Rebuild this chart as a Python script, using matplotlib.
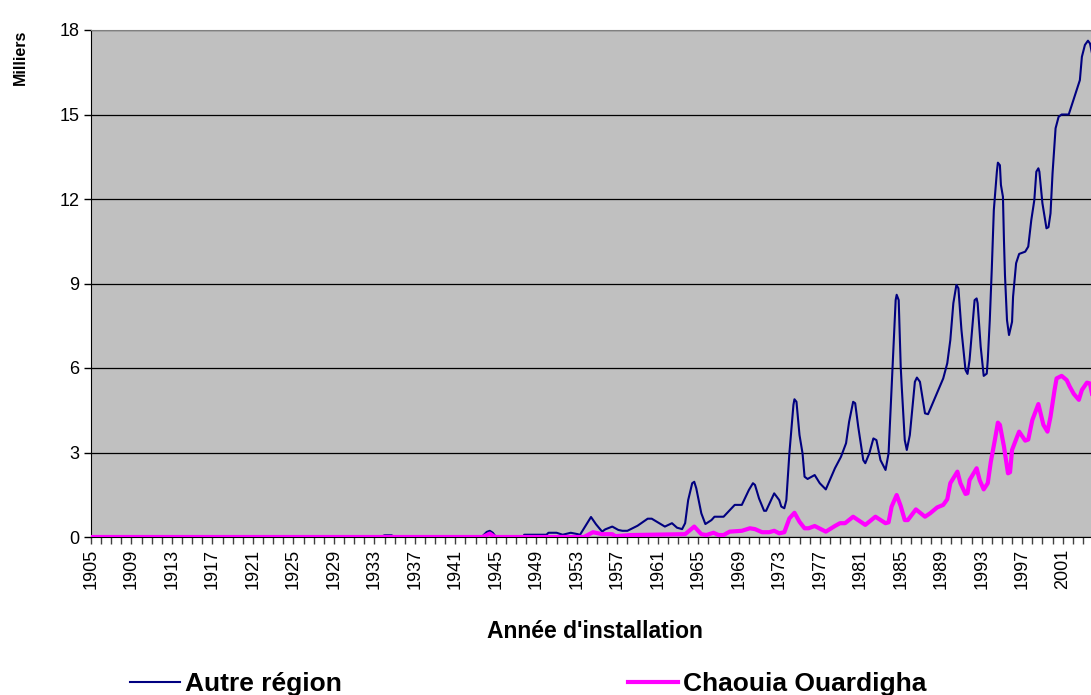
import matplotlib
matplotlib.use("Agg")
import matplotlib.pyplot as plt
from matplotlib.ticker import MultipleLocator, FixedLocator

plt.rcParams['font.family'] = ['Liberation Sans', 'DejaVu Sans']

# Autre région (milliers)
annees_autre = [1905, 1933.6, 1934.0, 1934.7, 1935.0, 1943.6, 1944.1, 1944.4, 1944.7, 1945.0,
                1947.7, 1947.8, 1950.0, 1950.2, 1951.0, 1951.6, 1952.4, 1953.1, 1953.3,
                1954.4, 1954.9, 1955.5, 1955.8, 1956.5, 1957.1, 1957.5, 1958.0, 1959.0,
                1960.0, 1960.4, 1961.7, 1962.4, 1962.9, 1963.4, 1963.7, 1964.0, 1964.4,
                1964.6, 1964.8, 1965.3, 1965.7, 1966.3, 1966.6, 1967.5, 1968.6, 1969.3,
                1970.0, 1970.4, 1970.6, 1971.0, 1971.5, 1971.7, 1972.5, 1973.0, 1973.2,
                1973.5, 1973.7, 1974.0, 1974.4, 1974.5, 1974.7, 1975.0, 1975.3, 1975.5,
                1975.8, 1976.5, 1977.0, 1977.6, 1978.5, 1979.1, 1979.6, 1979.9, 1980.3,
                1980.5, 1980.8, 1981.3, 1981.5, 1981.9, 1982.3, 1982.6, 1983.0, 1983.5,
                1983.8, 1984.2, 1984.5, 1984.6, 1984.8, 1985.0, 1985.1, 1985.4, 1985.6,
                1985.9, 1986.4, 1986.6, 1986.9, 1987.4, 1987.7, 1989.2, 1989.6, 1989.9,
                1990.2, 1990.5, 1990.7, 1991.0, 1991.4, 1991.6, 1991.8, 1992.3, 1992.5,
                1992.6, 1992.9, 1993.2, 1993.5, 1993.6, 1993.8, 1994.0, 1994.2, 1994.5,
                1994.6, 1994.8, 1994.9, 1995.1, 1995.2, 1995.3, 1995.5, 1995.7, 1996.0,
                1996.1, 1996.4, 1996.7, 1997.3, 1997.6, 1997.9, 1998.2, 1998.4, 1998.6,
                1998.7, 1999.0, 1999.4, 1999.6, 1999.8, 2000.0, 2000.3, 2000.6, 2000.9,
                2001.6, 2002.7, 2002.9, 2003.2, 2003.5, 2003.7, 2004.0]
autre_region = [0, 0, 0.06, 0.06, 0, 0, 0.18, 0.22, 0.15, 0,
                0, 0.08, 0.08, 0.15, 0.15, 0.08, 0.15, 0.1, 0.07,
                0.71, 0.45, 0.19, 0.27, 0.37, 0.25, 0.22, 0.22, 0.4,
                0.65, 0.65, 0.37, 0.49, 0.33, 0.28, 0.49, 1.31, 1.91,
                1.96, 1.73, 0.84, 0.46, 0.6, 0.72, 0.72, 1.14, 1.14,
                1.67, 1.91, 1.85, 1.37, 0.93, 0.93, 1.55, 1.31, 1.08,
                1.02, 1.31, 2.97, 4.69, 4.89, 4.8, 3.62, 2.97, 2.14,
                2.06, 2.2, 1.91, 1.69, 2.44, 2.85, 3.33, 4.09, 4.8,
                4.75, 3.92, 2.73, 2.62, 2.97, 3.5, 3.44, 2.73, 2.38,
                2.97, 6.05, 8.41, 8.6, 8.41, 6.05, 5.34, 3.44, 3.09,
                3.62, 5.51, 5.66, 5.51, 4.39, 4.36, 5.63, 6.17, 6.99,
                8.3, 8.95, 8.83, 7.35, 5.93, 5.79, 6.28, 8.41, 8.47,
                8.3, 6.76, 5.72, 5.8, 6.28, 7.7, 9.54, 11.61, 12.97,
                13.29, 13.2, 12.5, 12.08, 10.54, 9.3, 7.7, 7.17, 7.64,
                8.53, 9.72, 10.05, 10.13, 10.31, 11.25, 11.96, 12.97, 13.09,
                12.97, 11.85, 10.96, 11.0, 11.49, 12.91, 14.51, 14.92, 15.0,
                15.0, 16.22, 17.05, 17.47, 17.62, 17.52, 17.0]

# Chaouia Ouardigha (milliers)
annees_chaouia = [1905, 1943.7, 1944.4, 1944.9, 1953.7, 1954.6, 1955.5, 1956.5, 1956.8, 1958.4,
                  1963.7, 1964.6, 1965.3, 1965.8, 1966.5, 1967.0, 1967.5, 1968.1, 1969.3,
                  1970.1, 1970.6, 1971.3, 1972.0, 1972.5, 1973.0, 1973.5, 1974.0, 1974.5,
                  1975.0, 1975.5, 1975.9, 1976.5, 1977.6, 1978.5, 1979.0, 1979.5, 1980.3,
                  1981.5, 1982.5, 1983.5, 1983.8, 1984.1, 1984.6, 1985.0, 1985.4, 1985.7,
                  1986.5, 1987.4, 1987.9, 1988.6, 1989.2, 1989.6, 1989.9, 1990.6, 1990.9,
                  1991.4, 1991.6, 1991.8, 1992.5, 1992.8, 1993.2, 1993.6, 1993.9, 1994.3,
                  1994.6, 1994.8, 1995.2, 1995.6, 1995.8, 1996.0, 1996.5, 1996.7, 1997.3,
                  1997.6, 1998.0, 1998.6, 1999.1, 1999.5, 1999.8, 2000.2, 2000.4, 2000.9,
                  2001.4, 2001.7, 2002.1, 2002.6, 2002.9, 2003.4, 2003.7, 2004.0]
chaouia = [0, 0, 0.12, 0, 0, 0.17, 0.1, 0.1, 0.03, 0.07,
           0.1, 0.37, 0.1, 0.07, 0.15, 0.07, 0.07, 0.19, 0.22,
           0.31, 0.28, 0.17, 0.17, 0.22, 0.13, 0.17, 0.66, 0.86,
           0.54, 0.31, 0.31, 0.39, 0.19, 0.39, 0.49, 0.49, 0.72,
           0.43, 0.72, 0.49, 0.52, 1.08, 1.49, 1.1, 0.6, 0.6,
           0.98, 0.72, 0.84, 1.05, 1.14, 1.34, 1.91, 2.32, 1.91,
           1.53, 1.55, 2.02, 2.44, 2.02, 1.69, 1.91, 2.67, 3.44,
           4.06, 3.98, 3.21, 2.26, 2.3, 3.09, 3.56, 3.74, 3.42,
           3.46, 4.15, 4.72, 3.98, 3.74, 4.27, 5.22, 5.63, 5.72,
           5.57, 5.34, 5.08, 4.87, 5.22, 5.48, 5.45, 4.9]

labels_annees = list(range(1905, 2002, 4))

W, H = 1091, 695
fig = plt.figure(figsize=(W / 100, H / 100), dpi=100)
ax = fig.add_axes([91 / W, 1 - 537 / H, 1 - 91 / W, 507 / H])
ax.set_facecolor('#C0C0C0')

ax.plot(annees_autre, autre_region, color='#000080', lw=1.5, label='Autre région', zorder=3)
ax.plot(annees_chaouia, chaouia, color='#FF00FF', lw=3, label='Chaouia Ouardigha', zorder=4)

ax.set_xlim(1905, 2003.8)
ax.set_ylim(0, 18)
ax.yaxis.set_major_locator(MultipleLocator(3))
ax.grid(axis='y', color='black', lw=0.9)
ax.set_axisbelow(True)

ax.xaxis.set_major_locator(FixedLocator(labels_annees))
ax.xaxis.set_minor_locator(MultipleLocator(1))
ax.set_xticklabels([str(a) for a in labels_annees], rotation=90)
ax.tick_params(axis='x', which='both', direction='out', length=5, width=1, color='#404040')
ax.tick_params(axis='y', direction='out', length=5, width=1)
ax.tick_params(labelsize=13)

ax.spines['right'].set_visible(False)
ax.spines['top'].set_color('#808080')
ax.spines['left'].set_color('black')
ax.spines['bottom'].set_color('black')

fig.text(595 / W, 1 - 631 / H, "Année d'installation", fontsize=16.5, fontweight='bold',
         ha='center', va='center')
fig.text(20 / W, 1 - 57 / H, 'Milliers', rotation=90, fontsize=11.5, fontweight='bold',
         ha='center', va='center')

h1, h2 = ax.get_lines()
fig.legend([h1], ['Autre région'], loc='center left', bbox_to_anchor=(130 / W, 1 - 684 / H),
           frameon=False, prop={'weight': 'bold', 'size': 19},
           handlelength=1.9, handletextpad=0.19, borderpad=0, borderaxespad=0)
fig.legend([h2], ['Chaouia Ouardigha'], loc='center left', bbox_to_anchor=(628 / W, 1 - 684 / H),
           frameon=False, prop={'weight': 'bold', 'size': 19},
           handlelength=1.9, handletextpad=0.19, borderpad=0, borderaxespad=0)

fig.savefig('out.png', dpi=100)
